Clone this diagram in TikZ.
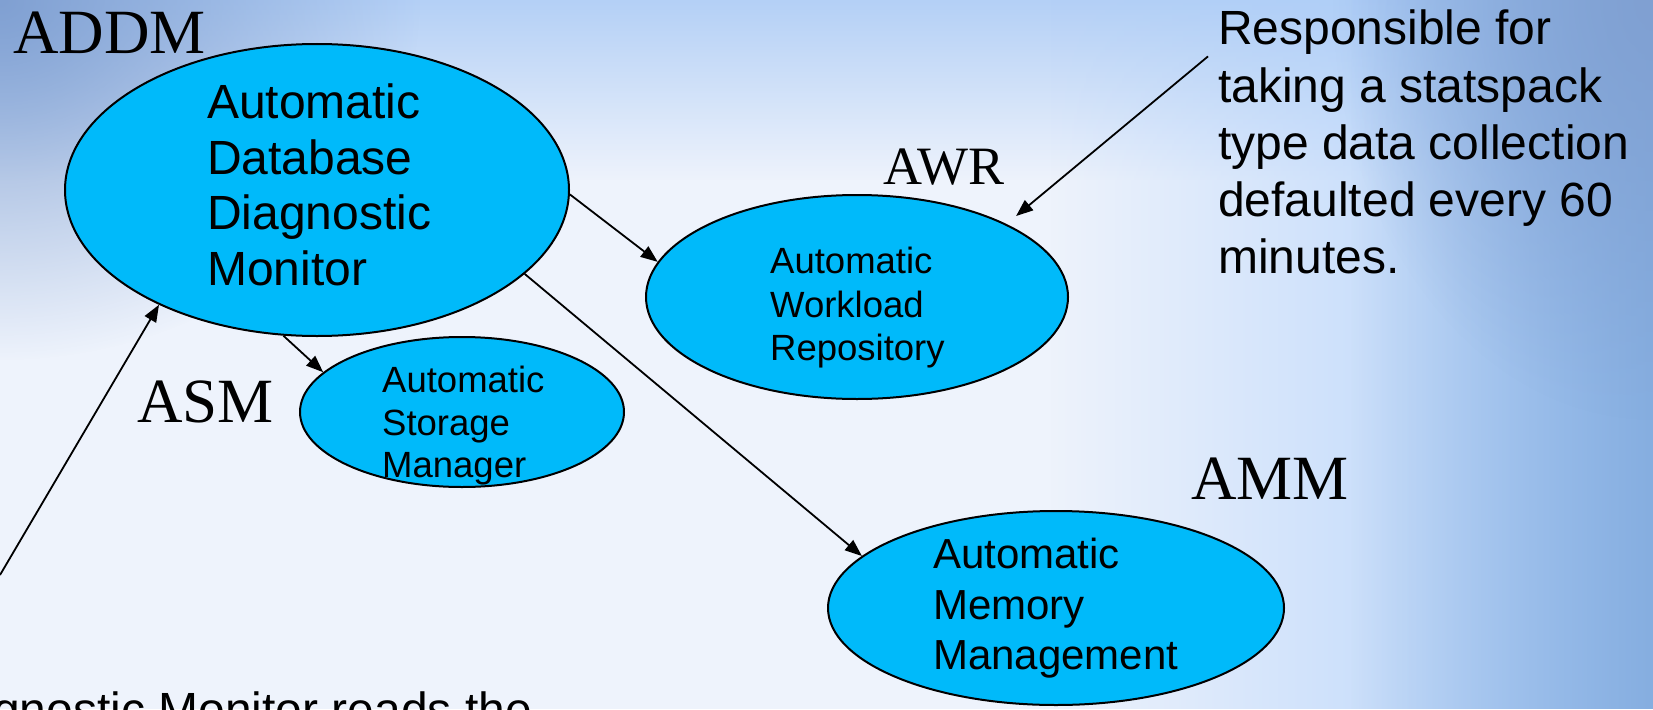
\documentclass[tikz,border=0pt]{standalone}
\usepackage{fontspec}
\setmainfont{Liberation Serif}
\newfontfamily\arialfont{Liberation Sans}
\usetikzlibrary{arrows.meta,fadings,shapes.geometric}

\definecolor{bubble}{RGB}{0,186,250}
\definecolor{bgbase}{RGB}{238,243,252}
\definecolor{bgtop}{RGB}{180,208,246}
\definecolor{bgcorner}{RGB}{128,160,210}
\definecolor{bgright}{RGB}{134,174,224}
\definecolor{bgmid}{RGB}{172,206,250}

\tikzfading[name=fadesouth, top color=transparent!0, bottom color=transparent!100]
\tikzfading[name=fadewest, left color=transparent!100, right color=transparent!0]
\tikzfading[name=faderadial, inner color=transparent!0, outer color=transparent!100]

\tikzset{
  bubble/.style={ellipse, draw=black, line width=2pt, fill=bubble, inner sep=0pt},
  caption/.style={anchor=base west, inner sep=0pt, font=\fontsize{63}{63}\selectfont},
  blurb/.style={anchor=north west, inner sep=0pt, align=left},
  link/.style={line width=1.8pt, -{Triangle[length=17pt, width=13pt]}},
}

\begin{document}
\begin{tikzpicture}[x=1pt, y=-1pt]
  \useasboundingbox (0,0) rectangle (1653,709);
  \clip (0,0) rectangle (1653,709);

  % slide background
  \fill[bgbase] (0,0) rectangle (1653,709);
  \fill[bgtop, path fading=fadesouth] (0,0) rectangle (1653,180);
  \fill[bgmid, path fading=fadewest] (1050,0) rectangle (1653,709);
  \fill[bgright, path fading=fadewest] (1350,0) rectangle (1653,709);
  \fill[bgcorner, path fading=faderadial] (0,0) ellipse [x radius=420, y radius=360];
  \fill[bgcorner, path fading=faderadial] (1653,0) ellipse [x radius=320, y radius=420];

  % ellipses
  \node[bubble, minimum width=504pt, minimum height=292pt] (addm) at (317,190) {};
  \node[bubble, minimum width=422pt, minimum height=204pt] (awr)  at (857,297) {};
  \node[bubble, minimum width=324pt, minimum height=150pt] (asm)  at (462,412) {};
  \node[bubble, minimum width=456pt, minimum height=194pt] (amm)  at (1056,608) {};

  % text inside the ellipses
  \node[blurb, font=\arialfont\fontsize{48}{55.5}\selectfont] (addmtext) at (207,83.6)
    {Automatic\\Database\\Diagnostic\\Monitor};
  \node[blurb, font=\arialfont\fontsize{36.5}{43.5}\selectfont] (awrtext) at (770,247)
    {Automatic\\Workload\\Repository};
  \node[blurb, font=\arialfont\fontsize{36.5}{42.5}\selectfont] (asmtext) at (382,366)
    {Automatic\\Storage\\Manager};
  \node[blurb, font=\arialfont\fontsize{42}{50.5}\selectfont] (ammtext) at (933,538)
    {Automatic\\Memory\\Management};

  % captions
  \node[caption] (addmlab) at (13,53) {ADDM};
  \node[caption, font=\fontsize{54}{54}\selectfont] (awrlab) at (883,184) {AWR};
  \node[caption] (asmlab) at (137,422) {ASM};
  \node[caption] (ammlab) at (1191,499) {AMM};

  % side notes
  \node[blurb, font=\arialfont\fontsize{48}{57.2}\selectfont] (resp) at (1218,10)
    {Responsible for\\taking a statspack\\type data collection\\defaulted every 60\\minutes.};
  \node[anchor=base west, inner sep=0pt, font=\arialfont\fontsize{48}{56}\selectfont] (reads) at (-7,726)
    {gnostic Monitor reads the};

  % connectors
  \coordinate (feed) at (0,575);
  \draw[link] (addm.-1.5) -- (awr.170);
  \draw[link] (addm.-22) -- (amm.165);
  \draw[link] (addm.-103) -- (asm.164);
  \draw[link] (feed) -- (addm.-144);
  \draw[link] ([shift={(-10,46.4)}]resp.north west) -- ([shift={(11,31)}]awrlab.south east);
\end{tikzpicture}
\end{document}
